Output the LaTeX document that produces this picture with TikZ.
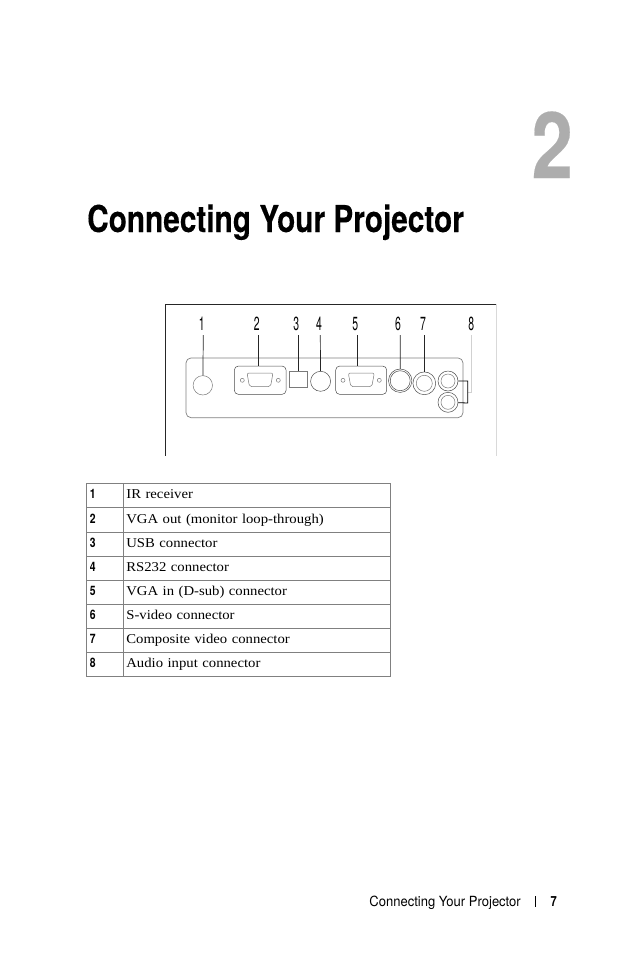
\documentclass[tikz,border=0pt]{standalone}
\usepackage{fontspec}
\setmainfont[FakeStretch=1.09]{Liberation Serif}
\newfontfamily\chapfont[FakeStretch=0.805,FakeBold=0.2]{TeX Gyre Heros Bold}
\newfontfamily\calloutfont[FakeStretch=0.55]{TeX Gyre Heros}
\newfontfamily\numfont[FakeStretch=0.8]{TeX Gyre Heros Bold}
\newfontfamily\footfont[FakeStretch=0.93]{TeX Gyre Heros}
\colorlet{colorRule}{black!50}
\colorlet{colorPart}{black!52}
\tikzset{
  callout/.style={font=\calloutfont\fontsize{19}{19}\selectfont, inner sep=0pt, anchor=base},
  lead/.style={black!85, line width=0.7pt},
  part/.style={draw=colorPart, line width=0.5pt, inner sep=0pt},
  jack/.style={part, circle},
  numcell/.style={draw=colorRule, line width=0.7pt, anchor=north west, minimum width=37pt, minimum height=24.1pt, inner sep=0pt, align=left, text width=30pt, text height=9pt, text depth=2.5pt, font=\numfont\fontsize{13}{13}\selectfont},
  textcell/.style={draw=colorRule, line width=0.7pt, anchor=north west, minimum width=267pt, minimum height=24.1pt, inner sep=0pt, align=left, text width=261pt, text height=9pt, text depth=2.5pt, font=\fontsize{13.5}{13.5}\selectfont}
}
\begin{document}
\begin{tikzpicture}[x=1pt, y=-1pt]
\useasboundingbox (0,0) rectangle (636,954);
% chapter head
\node[anchor=base east, inner sep=0pt, text=black!32, font=\chapfont\fontsize{92}{92}\selectfont] (chapno) at (573,178) {2};
\node[anchor=base west, inner sep=0pt, font=\chapfont\fontsize{37}{37}\selectfont] (title) at (87,232) {Connecting Your Projector};
% panel frame
\coordinate (frameA) at (165.7,455.6);
\coordinate (frameB) at (165.7,304.3);
\coordinate (frameC) at (496.7,304.3);
\coordinate (frameD) at (496.7,455.6);
\draw[black!85, line width=0.7pt] (frameA) -- (frameB) -- (frameC);
\draw[black!15, line width=0.7pt] (frameC) -- (frameD);
\node[draw=colorRule, line width=0.7pt, rounded corners=5pt, minimum width=277pt, minimum height=59.7pt, inner sep=0pt] (plate) at (324.5,387.8) {};
% connectors on the panel
\node[jack, minimum size=19.4pt] (ir) at (202.8,385.3) {};
\node[part, draw=black!70, rounded corners=4pt, minimum width=51.7pt, minimum height=28.3pt] (vgaout) at (260.2,380.2) {};
\node[part, minimum width=18pt, minimum height=15.6pt] (usb) at (298.3,379.5) {};
\node[jack, draw=black!70, minimum size=20pt] (rs) at (320.6,381.3) {};
\node[part, draw=black!70, rounded corners=4pt, minimum width=51pt, minimum height=28.3pt] (vgain) at (361.2,380.2) {};
\node[jack, draw=black!70, minimum size=23.4pt] (svid) at (400.2,380.7) {};
\node[jack, draw=black!70, minimum size=20pt] (svidin) at (400.2,380.7) {};
\node[jack, draw=black!70, minimum size=22.8pt] (comp) at (424.3,383.3) {};
\node[jack, minimum size=16pt] (compin) at (424.3,383.3) {};
\node[jack, draw=black!70, minimum size=20pt] (audioa) at (448,381) {};
\node[jack, minimum size=14pt] (audioain) at (448,381) {};
\node[jack, draw=black!70, minimum size=20pt] (audiob) at (448,402.3) {};
\node[jack, minimum size=14pt] (audiobin) at (448,402.3) {};
% d-sub shells and screw holes
\draw[part, rounded corners=2pt] (247,373) -- (273,373) -- (270.5,386.7) -- (249.5,386.7) -- cycle;
\draw[part, rounded corners=2pt] (348.3,373) -- (374.3,373) -- (371.8,386.7) -- (350.8,386.7) -- cycle;
\node[jack, minimum size=4pt] (holea) at (242.3,380.3) {};
\node[jack, minimum size=4pt] (holeb) at (278.3,380.3) {};
\node[jack, minimum size=4pt] (holec) at (343,380.3) {};
\node[jack, minimum size=4pt] (holed) at (379.3,380.3) {};
% callouts
\node[callout] (lab1) at (201.7,330.5) {1};
\node[callout] (lab2) at (256.7,330.5) {2};
\node[callout] (lab3) at (296.3,330.5) {3};
\node[callout] (lab4) at (319,330.5) {4};
\node[callout] (lab5) at (355.3,330.5) {5};
\node[callout] (lab6) at (398,330.5) {6};
\node[callout] (lab7) at (423,330.5) {7};
\node[callout] (lab8) at (471.3,330.5) {8};
\coordinate (tip1) at (203.3,335);
\coordinate (tip2) at (258.7,335);
\coordinate (tip3) at (298.3,335);
\coordinate (tip4) at (320.3,335);
\coordinate (tip5) at (357.3,335);
\coordinate (tip6) at (400.3,335);
\coordinate (tip7) at (424.3,335);
\coordinate (tip8) at (471.3,335);
\coordinate (tip8b) at (471.3,392.3);
\coordinate (brace) at (467.7,392.3);
\coordinate (bracea) at (467.7,381);
\coordinate (braceb) at (467.7,403);
\draw[lead] (tip1) -- (ir);
\draw[lead] (tip2) -- (tip2 |- vgaout.north);
\draw[lead] (tip3) -- (usb.north);
\draw[lead] (tip4) -- (rs);
\draw[lead] (tip5) -- (tip5 |- vgain.north);
\draw[lead] (tip6) -- (svid);
\draw[lead] (tip7) -- (comp.north);
\draw[black!18, line width=0.7pt] (tip8) -- (tip8b) -- (brace);
\draw[black, line width=0.8pt] (audioa) -- (bracea) -- (braceb) -- (audiob);
% table
\node[numcell] (n1) at (86,483.3) {1};
\node[textcell] (t1) at (123,483.3) {IR receiver};
\node[numcell] (n2) at (86,507.4) {2};
\node[textcell] (t2) at (123,507.4) {VGA out (monitor loop-through)};
\node[numcell] (n3) at (86,531.5) {3};
\node[textcell] (t3) at (123,531.5) {USB connector};
\node[numcell] (n4) at (86,555.6) {4};
\node[textcell] (t4) at (123,555.6) {RS232 connector};
\node[numcell] (n5) at (86,579.7) {5};
\node[textcell] (t5) at (123,579.7) {VGA in (D-sub) connector};
\node[numcell] (n6) at (86,603.8) {6};
\node[textcell] (t6) at (123,603.8) {S-video connector};
\node[numcell] (n7) at (86,627.9) {7};
\node[textcell] (t7) at (123,627.9) {Composite video connector};
\node[numcell] (n8) at (86,652) {8};
\node[textcell] (t8) at (123,652) {Audio input connector};
% footer
\node[anchor=base east, inner sep=0pt, font=\footfont\fontsize{14}{14}\selectfont] (foot) at (521,906) {Connecting Your Projector};
\node[anchor=base east, inner sep=0pt, font=\numfont\fontsize{14}{14}\selectfont] (page) at (557,906) {7};
\coordinate (bara) at (535,896);
\coordinate (barb) at (535,907);
\draw[black, line width=0.7pt] (bara) -- (barb);
\end{tikzpicture}
\end{document}
